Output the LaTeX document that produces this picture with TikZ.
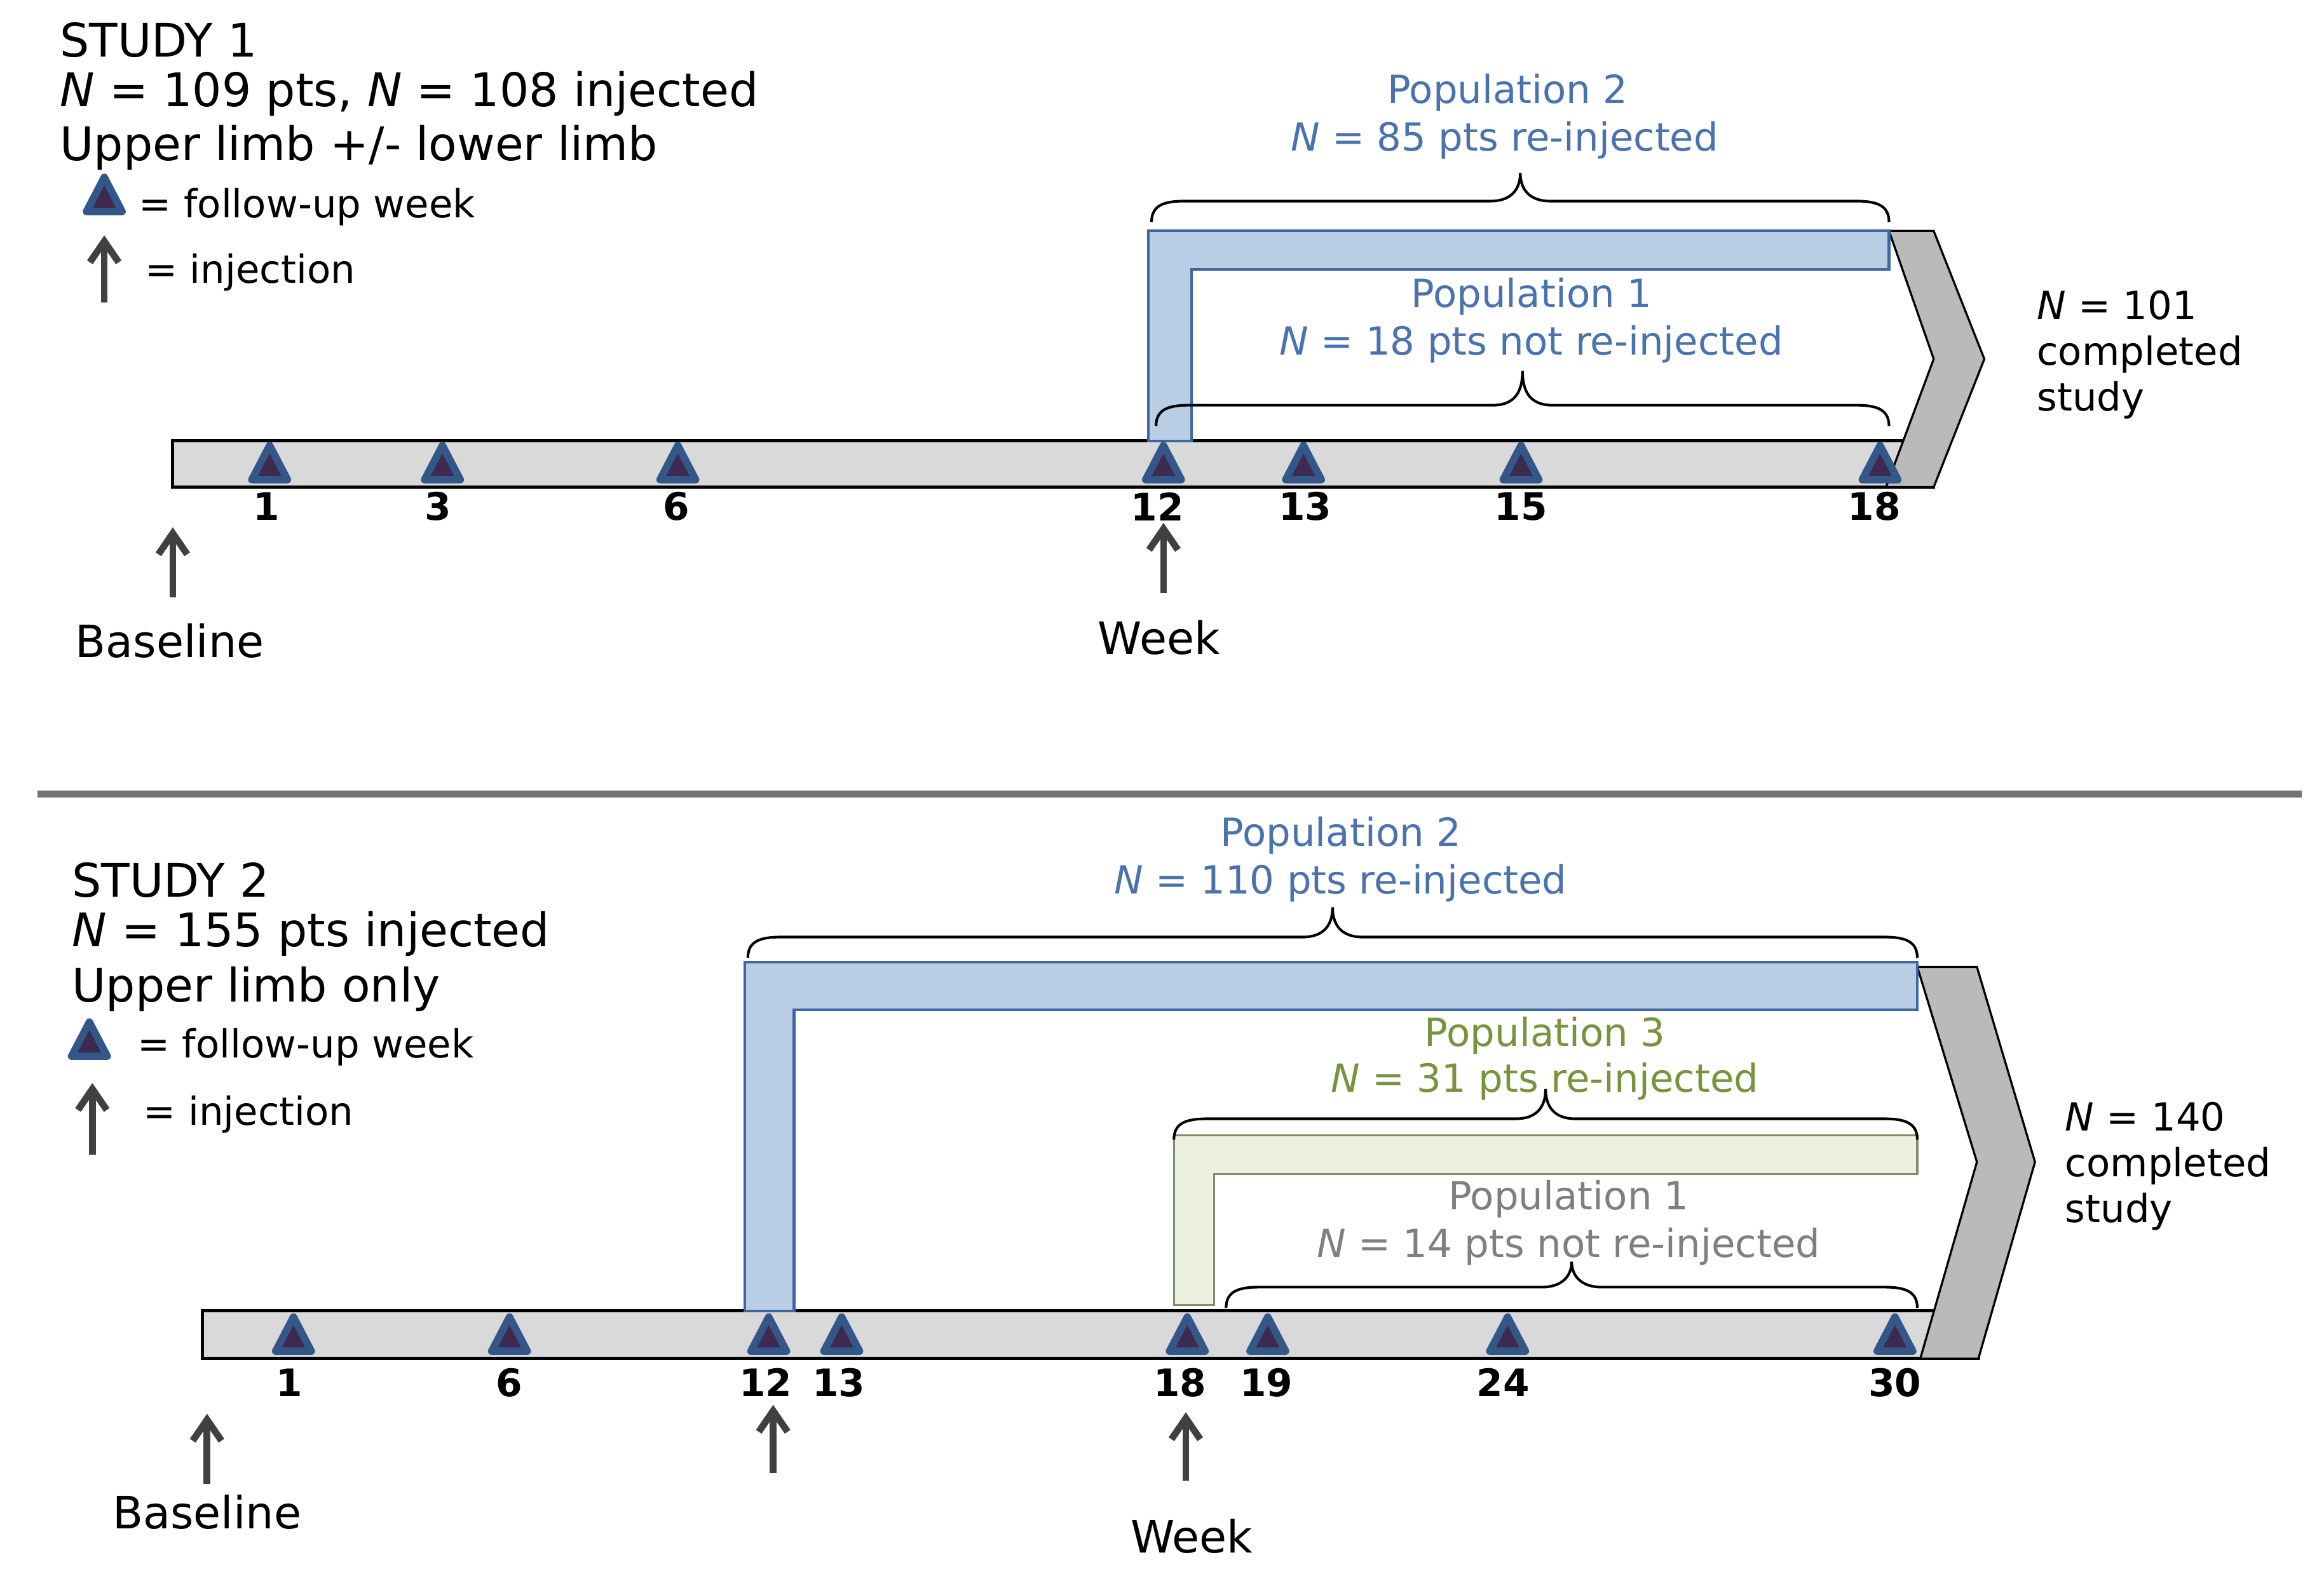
\documentclass[tikz,border=0pt]{standalone}
\usepackage{fontspec}
\setmainfont{DejaVu Sans}
\usetikzlibrary{arrows.meta}
\begin{document}
\begin{tikzpicture}[x=0.02cm,y=-0.02cm,
 head/.style={font=\fontsize{17.7}{21}\selectfont,anchor=west,inner sep=0pt},
 txt/.style={font=\fontsize{14.8}{17.5}\selectfont,inner sep=0pt},
 num/.style={font=\fontsize{14.5}{17}\selectfont\bfseries,inner sep=0pt},
 big/.style={font=\fontsize{17}{20}\selectfont,inner sep=0pt},
 bar/.style={fill=black!15,draw=black,line width=1.2pt},
 chev/.style={fill=black!27,draw=black,line width=0.8pt},
 blueL/.style={fill=lb,draw=db,line width=1pt},
 greenL/.style={fill=lg,draw=dg,line width=0.8pt},
 brace/.style={draw=black,line width=1pt},
 inj/.style={draw=black!75,line width=2.6pt,-{Straight Barb[length=8pt,width=11pt]}},
 tri/.style={fill=tin,draw=tout,line width=2.8pt,line join=round},
]
\definecolor{lb}{HTML}{B9CDE5}
\definecolor{db}{HTML}{3E67A0}
\definecolor{lg}{HTML}{EBF1DE}
\definecolor{dg}{HTML}{7F8F6A}
\definecolor{tin}{HTML}{3F2A4F}
\definecolor{tout}{HTML}{34578A}
\definecolor{ptb}{HTML}{4A72AE}
\definecolor{ptg}{HTML}{77933C}
\definecolor{ptgr}{HTML}{7F7F7F}
\useasboundingbox (0,0) rectangle (1560,1067);
\fill[white] (0,0) rectangle (1560,1067);
\newcommand\mytri[2]{\draw[tri] (#1-12,#2+11) -- (#1,#2-12) -- (#1+12,#2+11) -- cycle;}
\newcommand\mybrace[4]{\draw[brace] (#1,#3+14) .. controls (#1,#3+3) and (#1+8,#3) .. (#1+22,#3) -- ({(#1+#2)/2-20},#3) .. controls ({(#1+#2)/2-6},#3) and ({(#1+#2)/2},#3-8) .. ({(#1+#2)/2},#4) .. controls ({(#1+#2)/2},#3-8) and ({(#1+#2)/2+6},#3) .. ({(#1+#2)/2+20},#3) -- (#2-22,#3) .. controls (#2-8,#3) and (#2,#3+3) .. (#2,#3+14);}
% ================= STUDY 1
\node[head] (s1a) at (40,27) {STUDY 1};
\node[head] (s1b) at (40,63) {\textit{N} = 109 pts, \textit{N} = 108 injected};
\node[head] (s1c) at (40,99) {Upper limb +/- lower limb};
\mytri{70}{131}
\node[txt,anchor=west] (l1a) at (93,139) {= follow-up week};
\coordinate (la1) at (70,203); \coordinate (la2) at (70,158);
\draw[inj] (la1) -- (la2);
\node[txt,anchor=west] (l1b) at (97,183) {= injection};
\draw[bar] (116,296) rectangle (1298,327);
\draw[chev] (1268,155) -- (1298,155) -- (1332,241) -- (1298,327) -- (1266,327) -- (1298,241) -- cycle;
\draw[blueL] (771,296) -- (771,155) -- (1268,155) -- (1268,181) -- (800,181) -- (800,296) -- cycle;
\mybrace{773}{1268}{135}{116}
\mybrace{776}{1268}{272}{249}
\node[txt,text=ptb] (p2a) at (1012,62) {Population 2};
\node[txt,text=ptb] (p2b) at (1010,94) {\textit{N} = 85 pts re-injected};
\node[txt,text=ptb] (p1a) at (1028,199) {Population 1};
\node[txt,text=ptb] (p1b) at (1028,231) {\textit{N} = 18 pts not re-injected};
\foreach \x in {181,297,455,781,875,1021,1262} {\mytri{\x}{311}}
\foreach \x/\l in {179/1,294/3,454/6,777/12,876/13,1021/15,1258/18}
 {\node[num] at (\x,340) {\l};}
\coordinate (b1a) at (116,401); \coordinate (b1b) at (116,354);
\draw[inj] (b1a) -- (b1b);
\node[big] (bl1) at (114,430) {Baseline};
\coordinate (w1a) at (781,398); \coordinate (w1b) at (781,351);
\draw[inj] (w1a) -- (w1b);
\node[big] (wk1) at (778,428) {Week};
\node[txt,anchor=west,align=left] (c1) at (1367,238) {\textit{N} = 101\\completed\\study};
\coordinate (sepa) at (25,533); \coordinate (sepb) at (1545,533);
\draw[black!55,line width=2.5pt] (sepa) -- (sepb);
% ================= STUDY 2
\node[head] (s2a) at (48,591) {STUDY 2};
\node[head] (s2b) at (48,627) {\textit{N} = 155 pts injected};
\node[head] (s2c) at (48,664) {Upper limb only};
\mytri{60}{698}
\node[txt,anchor=west] (l2a) at (92,703) {= follow-up week};
\coordinate (lb1) at (62,775); \coordinate (lb2) at (62,727);
\draw[inj] (lb1) -- (lb2);
\node[txt,anchor=west] (l2b) at (96,748) {= injection};
\draw[bar] (136,880) rectangle (1328,912);
\draw[chev] (1287,649) -- (1327,649) -- (1366,780) -- (1328,912) -- (1289,912) -- (1327,780) -- cycle;
\draw[blueL] (500,880) -- (500,646) -- (1287,646) -- (1287,678) -- (533,678) -- (533,880) -- cycle;
\draw[greenL] (788,876) -- (788,762) -- (1287,762) -- (1287,788) -- (815,788) -- (815,876) -- cycle;
\mybrace{502}{1287}{629}{609}
\mybrace{788}{1287}{751}{731}
\mybrace{823}{1287}{864}{847}
\node[txt,text=ptb] (q2a) at (900,561) {Population 2};
\node[txt,text=ptb] (q2b) at (900,593) {\textit{N} = 110 pts re-injected};
\node[txt,text=ptg] (q3a) at (1037,695) {Population 3};
\node[txt,text=ptg] (q3b) at (1037,726) {\textit{N} = 31 pts re-injected};
\node[txt,text=ptgr] (q1a) at (1053,805) {Population 1};
\node[txt,text=ptgr] (q1b) at (1053,837) {\textit{N} = 14 pts not re-injected};
\foreach \x in {197,342,516,565,797,851,1012,1272} {\mytri{\x}{896}}
\foreach \x/\l in {194/1,342/6,514/12,563/13,792/18,850/19,1009/24,1272/30}
 {\node[num] at (\x,928) {\l};}
\coordinate (b2a) at (139,996); \coordinate (b2b) at (139,949);
\draw[inj] (b2a) -- (b2b);
\node[big] (bl2) at (139,1015) {Baseline};
\coordinate (i2a) at (519,989); \coordinate (i2b) at (519,943);
\draw[inj] (i2a) -- (i2b);
\coordinate (w2a) at (796,994); \coordinate (w2b) at (796,948);
\draw[inj] (w2a) -- (w2b);
\node[big] (wk2) at (800,1031) {Week};
\node[txt,anchor=west,align=left] (c2) at (1386,783) {\textit{N} = 140\\completed\\study};
\end{tikzpicture}
\end{document}
